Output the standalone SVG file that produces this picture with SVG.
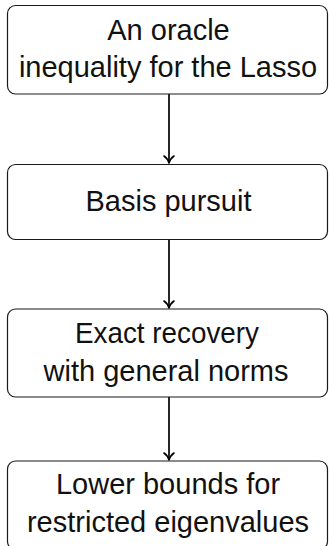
<svg xmlns="http://www.w3.org/2000/svg" width="329" height="546" viewBox="0 0 329 546">
  <defs>
    <!-- curved open arrow tip -->
    <marker id="tip" markerWidth="12" markerHeight="12" viewBox="-9 -6 11 12" refX="0" refY="0" orient="auto" markerUnits="userSpaceOnUse">
      <path d="M-7,-5 C-5,-2.2 -2.2,-0.5 0,0 C-2.2,0.5 -5,2.2 -7,5" fill="none" stroke="#000" stroke-width="1.6" stroke-linecap="round" stroke-linejoin="round"/>
    </marker>
  </defs>
  <style>
    .box { fill: #fff; stroke: #1a1a1a; stroke-width: 1.2; }
    .lbl { font-family: "Liberation Sans", Arial, sans-serif; font-size: 29px; fill: #111; text-anchor: middle; }
    .edge { stroke: #000; stroke-width: 1.7; fill: none; marker-end: url(#tip); }
  </style>

  <g id="connectors">
    <line class="edge" x1="169" y1="94" x2="169" y2="163"/>
    <line class="edge" x1="169" y1="239.5" x2="169" y2="308"/>
    <line class="edge" x1="169" y1="397" x2="169" y2="460"/>
  </g>

  <g id="oracle">
    <rect class="box" x="7.5" y="5.5" width="320" height="88.5" rx="8"/>
    <text class="lbl" x="168.5" y="39.5">An oracle</text>
    <text class="lbl" x="168" y="77">inequality for the Lasso</text>
  </g>

  <g id="basis">
    <rect class="box" x="7.5" y="164.5" width="320" height="75" rx="8"/>
    <text class="lbl" x="168.5" y="210.5">Basis pursuit</text>
  </g>

  <g id="exact">
    <rect class="box" x="7.5" y="309" width="320" height="88" rx="8"/>
    <text class="lbl" x="167" y="342.5" textLength="184" lengthAdjust="spacingAndGlyphs">Exact recovery</text>
    <text class="lbl" x="166" y="380.5">with general norms</text>
  </g>

  <g id="lower">
    <rect class="box" x="7.5" y="461" width="320" height="88.5" rx="8"/>
    <text class="lbl" x="168" y="494">Lower bounds for</text>
    <text class="lbl" x="168" y="532">restricted eigenvalues</text>
  </g>
</svg>
